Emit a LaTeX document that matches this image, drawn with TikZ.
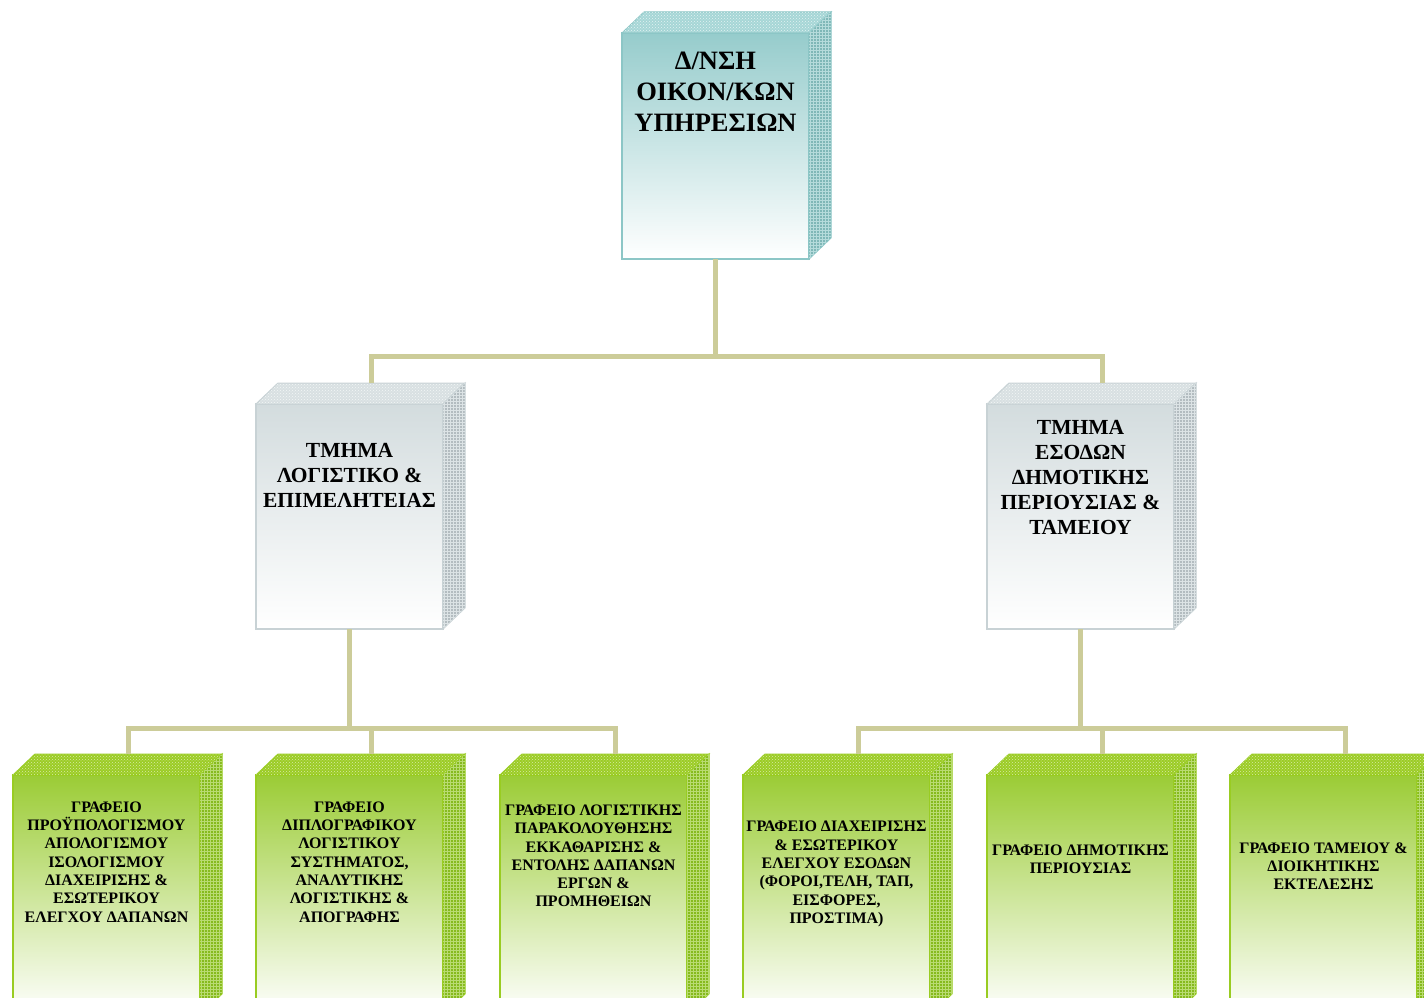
\documentclass[tikz,border=0pt]{standalone}
\usepackage{fontspec}
\setmainfont{Liberation Serif}
\usetikzlibrary{patterns}

\definecolor{dircol}{HTML}{96CCCC}
\definecolor{dirtopcol}{HTML}{A6D6D6}
\definecolor{dirsidecol}{HTML}{7FB7B7}
\definecolor{dirline}{HTML}{8CC6C6}
\definecolor{deptcol}{HTML}{D3DCDE}
\definecolor{depttopcol}{HTML}{D8E0E2}
\definecolor{deptsidecol}{HTML}{B3BCC0}
\definecolor{deptline}{HTML}{C8D2D5}
\definecolor{offcol}{HTML}{9BCC35}
\definecolor{offtopcol}{HTML}{9CCC25}
\definecolor{offsidecol}{HTML}{86BA1E}
\definecolor{offline}{HTML}{99CC22}
\definecolor{linkcol}{HTML}{CCCC99}

% box with top and side face: (name)(x,y of front top left)(height)(text y)[level]{text}
\def\cube(#1)(#2,#3)(#4)(#5)[#6]#7{%
  \node[#6front, minimum height=#4] (#1) at (#2,#3) {};
  \draw[#6top] (#1.north west) -- ++(22,-21) -- ++(187,0) -- (#1.north east) -- cycle;
  \draw[#6side] (#1.north east) -- ++(22,-21) -- ++(0,#4) -- (#1.south east) -- cycle;
  \path (#1.north) ++(22,-21) coordinate (#1-top);
  \node[#6text] (#1-txt) at (#1.center |- 0,#5) {#7};
}

\tikzset{
  front/.style={anchor=north west, minimum width=187, inner sep=0pt, outer sep=0pt, line width=1.3pt},
  dirfront/.style={front, draw=dirline, top color=dircol, middle color=dircol!40!white, bottom color=white},
  dirtop/.style={draw=dirline, line width=1pt, fill=dirtopcol, postaction={pattern=crosshatch dots, pattern color=white!70!dirtopcol}},
  dirside/.style={draw=dirline, line width=1pt, fill=dirsidecol, postaction={pattern=grid, pattern color=dircol!70!white}},
  dirtext/.style={align=center, font=\bfseries\fontsize{26.5}{31}\selectfont},
  deptfront/.style={front, draw=deptline, top color=deptcol, middle color=deptcol!50!white, bottom color=white},
  depttop/.style={draw=deptline, line width=1pt, fill=depttopcol, postaction={pattern=crosshatch dots, pattern color=white!70!depttopcol}},
  deptside/.style={draw=deptline, line width=1pt, fill=deptsidecol, postaction={pattern=grid, pattern color=deptcol!80!white}},
  depttext/.style={align=center, font=\bfseries\fontsize{21.5}{25}\selectfont},
  offfront/.style={front, draw=offline, top color=offcol, middle color=offcol!22!white, bottom color=white},
  offtop/.style={draw=offline, line width=1pt, fill=offtopcol, postaction={pattern=crosshatch dots, pattern color=white!60!offtopcol}},
  offside/.style={draw=offline, line width=1pt, fill=offsidecol, postaction={pattern=grid, pattern color=offcol!70!white}},
  offtext/.style={align=center, font=\bfseries\fontsize{16}{18.3}\selectfont},
  link/.style={draw=linkcol, line width=5pt}
}

\begin{document}
\begin{tikzpicture}[x=1pt, y=-1pt]
  \useasboundingbox (0,0) rectangle (1424,998);

  % director
  \cube(dir)(622,33)(226)(92)[dir]{Δ/ΝΣΗ\\ΟΙΚΟΝ/ΚΩΝ\\ΥΠΗΡΕΣΙΩΝ}

  % departments
  \cube(logist)(256,404)(225)(475)[dept]{ΤΜΗΜΑ\\ΛΟΓΙΣΤΙΚΟ \&\\ΕΠΙΜΕΛΗΤΕΙΑΣ}
  \cube(esod)(987,404)(225)(478)[dept]{ΤΜΗΜΑ\\ΕΣΟΔΩΝ\\ΔΗΜΟΤΙΚΗΣ\\ΠΕΡΙΟΥΣΙΑΣ \&\\ΤΑΜΕΙΟΥ}

  % offices
  \cube(off1)(13,775)(240)(862)[off]{ΓΡΑΦΕΙΟ\\ΠΡΟΫΠΟΛΟΓΙΣΜΟΥ\\ΑΠΟΛΟΓΙΣΜΟΥ\\ΙΣΟΛΟΓΙΣΜΟΥ\\ΔΙΑΧΕΙΡΙΣΗΣ \&\\ΕΣΩΤΕΡΙΚΟΥ\\ΕΛΕΓΧΟΥ ΔΑΠΑΝΩΝ}
  \cube(off2)(256,775)(240)(862)[off]{ΓΡΑΦΕΙΟ\\ΔΙΠΛΟΓΡΑΦΙΚΟΥ\\ΛΟΓΙΣΤΙΚΟΥ\\ΣΥΣΤΗΜΑΤΟΣ,\\ΑΝΑΛΥΤΙΚΗΣ\\ΛΟΓΙΣΤΙΚΗΣ \&\\ΑΠΟΓΡΑΦΗΣ}
  \cube(off3)(500,775)(240)(856)[off]{ΓΡΑΦΕΙΟ ΛΟΓΙΣΤΙΚΗΣ\\ΠΑΡΑΚΟΛΟΥΘΗΣΗΣ\\ΕΚΚΑΘΑΡΙΣΗΣ \&\\ΕΝΤΟΛΗΣ ΔΑΠΑΝΩΝ\\ΕΡΓΩΝ \&\\ΠΡΟΜΗΘΕΙΩΝ}
  \cube(off4)(743,775)(240)(874)[off]{ΓΡΑΦΕΙΟ ΔΙΑΧΕΙΡΙΣΗΣ\\\& ΕΣΩΤΕΡΙΚΟΥ\\ΕΛΕΓΧΟΥ ΕΣΟΔΩΝ\\(ΦΟΡΟΙ,ΤΕΛΗ, ΤΑΠ,\\ΕΙΣΦΟΡΕΣ,\\ΠΡΟΣΤΙΜΑ)}
  \cube(off5)(987,775)(240)(859)[off]{ΓΡΑΦΕΙΟ ΔΗΜΟΤΙΚΗΣ\\ΠΕΡΙΟΥΣΙΑΣ}
  \cube(off6)(1230,775)(240)(866)[off]{ΓΡΑΦΕΙΟ ΤΑΜΕΙΟΥ \&\\ΔΙΟΙΚΗΤΙΚΗΣ\\ΕΚΤΕΛΕΣΗΣ}

  % connectors
  \draw[link] (dir.south) -- ++(0,97) coordinate (j0);
  \draw[link] (logist-top) |- (j0) -| (esod-top);

  \draw[link] (logist.south) -- ++(0,99) coordinate (j1);
  \draw[link] (off1-top) |- (j1) -| (off3-top);
  \draw[link] (off2-top) -- (off2-top |- j1);

  \draw[link] (esod.south) -- ++(0,99) coordinate (j2);
  \draw[link] (off4-top) |- (j2) -| (off6-top);
  \draw[link] (off5-top) -- (off5-top |- j2);
\end{tikzpicture}
\end{document}
